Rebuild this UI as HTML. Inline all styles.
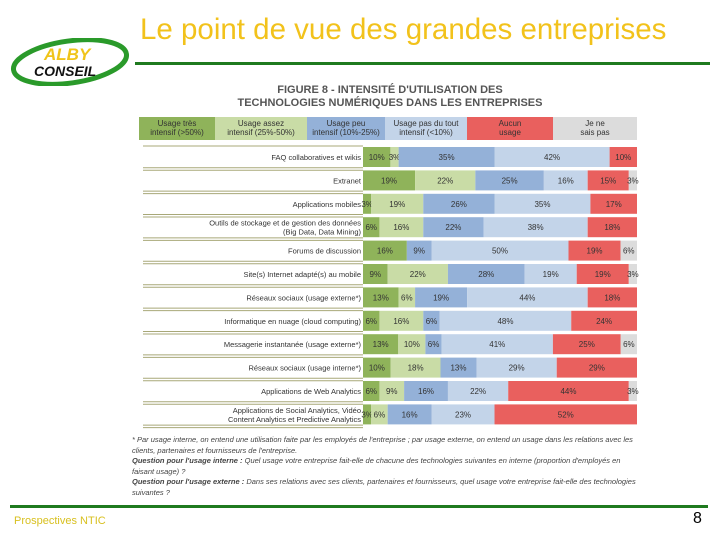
<!DOCTYPE html>
<html><head><meta charset="utf-8"><style>
body{margin:0;width:720px;height:540px;background:#fff;position:relative;overflow:hidden;font-family:"Liberation Sans",sans-serif}
.abs{position:absolute}
</style></head><body>
<div class="abs" style="left:10px;top:38px;width:120px;height:48px">
<svg width="120" height="48"><ellipse cx="60" cy="24" rx="57" ry="21" fill="none" stroke="#2a9a2a" stroke-width="5" transform="rotate(-8 60 24)"/>
<text x="34" y="22" font-family="Liberation Sans" font-weight="bold" font-style="italic" font-size="17" fill="#f0c419">ALBY</text>
<text x="24" y="38" font-family="Liberation Sans" font-weight="bold" font-style="italic" font-size="14" fill="#111">CONSEIL</text></svg></div>
<div class="abs" style="left:140px;top:13px;font-size:29.5px;color:#f2c21b;white-space:nowrap">Le point de vue des grandes entreprises</div>
<div class="abs" style="left:135px;top:62px;width:575px;height:3px;background:#1f7a1f"></div>
<div class="abs" style="left:140px;top:84px;width:500px;text-align:center;font-size:11px;font-weight:bold;color:#555;line-height:13px">FIGURE 8 - INTENSITÉ D'UTILISATION DES<br>TECHNOLOGIES NUMÉRIQUES DANS LES ENTREPRISES</div>
<svg class="abs" style="left:0;top:0" width="720" height="540" id="chart"></svg>
<div class="abs" style="left:132px;top:435px;width:510px;font-size:7.5px;line-height:10.5px;color:#444;font-style:italic">* Par usage interne, on entend une utilisation faite par les employés de l'entreprise ; par usage externe, on entend un usage dans les relations avec les clients, partenaires et fournisseurs de l'entreprise.<br><b>Question pour l'usage interne :</b> Quel usage votre entreprise fait-elle de chacune des technologies suivantes en interne (proportion d'employés en faisant usage) ?<br><b>Question pour l'usage externe :</b> Dans ses relations avec ses clients, partenaires et fournisseurs, quel usage votre entreprise fait-elle des technologies suivantes ?</div>
<div class="abs" style="left:10px;top:505px;width:698px;height:3px;background:#1f7a1f"></div>
<div class="abs" style="left:14px;top:515px;font-size:11px;color:#d8c020">Prospectives NTIC</div>
<div class="abs" style="left:693px;top:510px;font-size:16px;color:#000">8</div>
<script>
const legendLabels=[["Usage très","intensif (>50%)"],["Usage assez","intensif (25%-50%)"],["Usage peu","intensif (10%-25%)"],["Usage pas du tout","intensif (<10%)"],["Aucun","usage"],["Je ne","sais pas"]];
const categories=["FAQ collaboratives et wikis","Extranet","Applications mobiles","Outils de stockage et de gestion des données|(Big Data, Data Mining)","Forums de discussion","Site(s) Internet adapté(s) au mobile","Réseaux sociaux (usage externe*)","Informatique en nuage (cloud computing)","Messagerie instantanée (usage externe*)","Réseaux sociaux (usage interne*)","Applications de Web Analytics","Applications de Social Analytics, Vidéo|Content Analytics et Predictive Analytics"];
const tresIntensif=[10,19,3,6,16,9,13,6,13,10,6,3];
const assezIntensif=[3,22,19,16,0,22,6,16,10,18,9,6];
const peuIntensif=[35,25,26,22,9,28,19,6,6,13,16,16];
const pasIntensif=[42,16,35,38,50,19,44,48,41,29,22,23];
const aucunUsage=[10,15,17,18,19,19,18,24,25,29,44,52];
const nsp=[0,3,0,0,6,3,0,0,6,0,3,0];
const series=[tresIntensif,assezIntensif,peuIntensif,pasIntensif,aucunUsage,nsp];
const colors=["#8fb35a","#c9dca6","#94b1d8","#c3d4e9","#e9605e","#dcdcdc"];
const svg=document.getElementById('chart');const NS="http://www.w3.org/2000/svg";
function mk(t,a){const e=document.createElementNS(NS,t);for(const k in a)e.setAttribute(k,a[k]);svg.appendChild(e);return e;}
const legX=[139,215,307,385,467,553,637];
legendLabels.forEach((l,i)=>{const r=mk('rect',{x:legX[i],y:117,width:legX[i+1]-legX[i],height:23,fill:colors[i]});

l.forEach((s,j)=>{const t=mk('text',{x:(legX[i]+legX[i+1])/2,y:126+j*9,'text-anchor':'middle','font-size':8,fill:'#333','font-family':'Liberation Sans'});t.textContent=s;});});
const x0=363,x1=637,rowY=i=>157+i*23.4,bh=20;
mk('line',{x1:143,x2:363,y1:146,y2:146,stroke:'#a8a878','stroke-width':1});
categories.forEach((c,i)=>{const cy=rowY(i);
const ly=cy+11.7;mk('line',{x1:143,x2:363,y1:ly-1,y2:ly-1,stroke:'#a8a878','stroke-width':1});mk('line',{x1:143,x2:363,y1:ly+1.5,y2:ly+1.5,stroke:'#a8a878','stroke-width':1});
const parts=c.split('|');parts.forEach((p,j)=>{const t=mk('text',{x:361,y:cy+3-(parts.length-1)*4.5+j*9,'text-anchor':'end','font-size':7.5,fill:'#333','font-family':'Liberation Sans'});t.textContent=p;});
let tot=0;series.forEach(s=>tot+=s[i]);let acc=0;
series.forEach((s,k)=>{const v=s[i];if(!v)return;const xa=x0+(x1-x0)*acc/tot,w=(x1-x0)*v/tot;acc+=v;
const r=mk('rect',{x:xa,y:cy-bh/2,width:w,height:bh,fill:colors[k]});

const t=mk('text',{x:xa+w/2,y:cy+3,'text-anchor':'middle','font-size':8,fill:'#333','font-family':'Liberation Sans'});t.textContent=v+'%';});});
</script>
</body></html>
